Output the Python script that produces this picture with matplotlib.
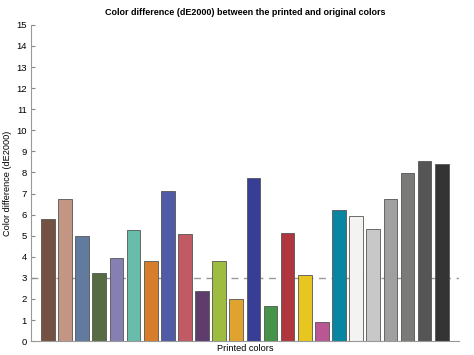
import numpy as np
import matplotlib
matplotlib.use("Agg")
import matplotlib.pyplot as plt

plt.rcParams['font.family'] = ['Liberation Sans', 'DejaVu Sans']

# dE2000 per ColorChecker patch
de_values = [5.79, 6.74, 4.97, 3.24, 3.95, 5.27, 3.81, 7.13, 5.08, 2.40, 3.80, 1.98,
             7.72, 1.68, 5.13, 3.13, 0.92, 6.22, 5.92, 5.30, 6.74, 7.96, 8.55, 8.40]

patch_rgb = [(115, 82, 68), (194, 150, 130), (98, 122, 157), (87, 108, 67),
             (133, 128, 177), (103, 189, 170), (214, 126, 44), (80, 91, 166),
             (193, 90, 99), (94, 60, 108), (157, 188, 64), (224, 163, 46),
             (56, 61, 150), (70, 148, 73), (175, 54, 60), (231, 199, 31),
             (187, 86, 149), (8, 133, 161), (243, 243, 242), (200, 200, 200),
             (160, 160, 160), (122, 122, 121), (85, 85, 85), (52, 52, 52)]

threshold = 3
y_ticks = list(range(0, 16))

fig = plt.figure(figsize=(4.74, 3.55), dpi=100)
ax = fig.add_axes([0.065, 0.039, 0.903, 0.891])

x = np.arange(1, len(de_values) + 1)
colors = [(r / 255, g / 255, b / 255) for r, g, b in patch_rgb]
ax.bar(x, de_values, width=0.8, color=colors, edgecolor='#555555', linewidth=0.6, zorder=2)
ax.axhline(threshold, color='#999999', linestyle=(0, (5, 4)), linewidth=1.0, zorder=1)

ax.set_xlim(0, 25)
ax.set_ylim(0, 15)
ax.set_yticks(y_ticks)
ax.set_xticks([])
ax.tick_params(axis='y', direction='in', length=3, labelsize=6.8, color='#888888', pad=3)

for side in ['top', 'right']:
    ax.spines[side].set_visible(False)
for side in ['left', 'bottom']:
    ax.spines[side].set_color('#999999')
    ax.spines[side].set_linewidth(0.8)

ax.set_title("Color difference (dE2000) between the printed and original colors",
             fontsize=6.5, fontweight='bold', pad=7)
ax.set_ylabel("Color difference (dE2000)", fontsize=6.6, labelpad=3)
ax.set_xlabel("Printed colors", fontsize=6.6, labelpad=2)

fig.savefig("out.png", dpi=100)
